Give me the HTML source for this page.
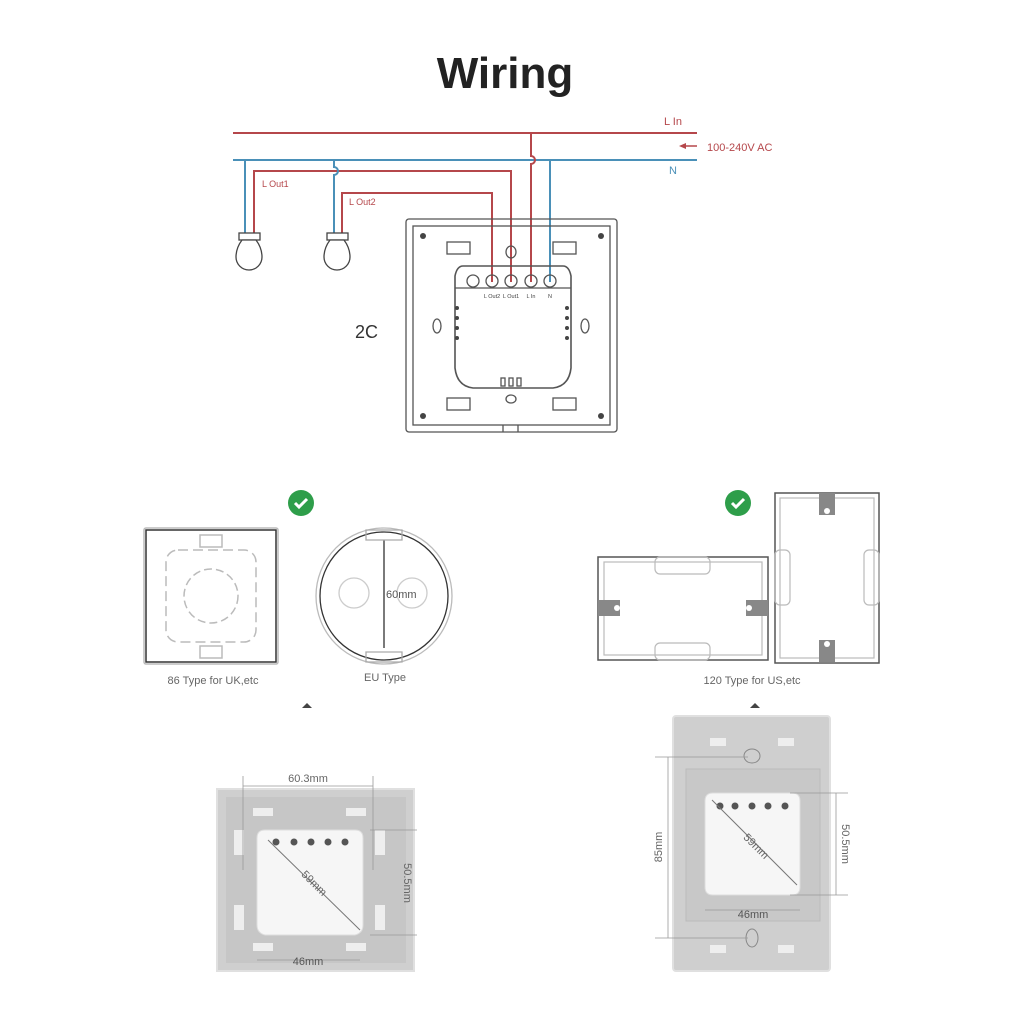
<!DOCTYPE html>
<html><head><meta charset="utf-8"><style>
html,body{margin:0;padding:0;background:#fff;}
svg{display:block;font-family:"Liberation Sans",sans-serif;}
</style></head><body>
<svg width="1024" height="1024" viewBox="0 0 1024 1024" xmlns="http://www.w3.org/2000/svg">
<rect width="1024" height="1024" fill="#fff"/>
<text x="505" y="88" text-anchor="middle" font-size="44" font-weight="bold" fill="#222">Wiring</text>

<!-- mains -->
<g fill="none" stroke-width="2">
<line x1="233" y1="133" x2="697" y2="133" stroke="#b5474b"/>
<line x1="233" y1="160" x2="697" y2="160" stroke="#4a90b8"/>
<!-- lamp1 -->
<line x1="245" y1="160" x2="245" y2="234" stroke="#4a90b8"/>
<path d="M254 234 V171 H511 V282" stroke="#b5474b"/>
<!-- lamp2 -->
<path d="M334 160 V167 a4 4 0 0 1 0 8 V234" stroke="#4a90b8"/>
<path d="M342 234 V193 H492 V282" stroke="#b5474b"/>
<!-- L in -->
<path d="M531 133 V156 a4 4 0 0 1 0 8 V282" stroke="#b5474b"/>
<line x1="550" y1="160" x2="550" y2="282" stroke="#4a90b8"/>
<line x1="697" y1="146" x2="682" y2="146" stroke="#b5474b" stroke-width="1.5"/>
</g>
<polygon points="679,146 686,143 686,149" fill="#b5474b"/>
<text x="664" y="125" font-size="11" fill="#b5474b">L In</text>
<text x="707" y="151" font-size="11" fill="#b5474b">100-240V AC</text>
<text x="669" y="174" font-size="11" fill="#4a90b8">N</text>
<text x="262" y="187" font-size="9" fill="#b5474b">L Out1</text>
<text x="349" y="205" font-size="9" fill="#b5474b">L Out2</text>

<!-- bulbs -->
<g fill="#fff" stroke="#444" stroke-width="1.3">
<rect x="239" y="233" width="21" height="7"/>
<path d="M242 240 Q236 248 236 257 A13 13 0 0 0 262 257 Q262 248 256 240 Z"/>
<rect x="327" y="233" width="21" height="7"/>
<path d="M330 240 Q324 248 324 257 A13 13 0 0 0 350 257 Q350 248 344 240 Z"/>
</g>
<text x="355" y="338" font-size="18" fill="#333">2C</text>

<!-- switch back -->
<g fill="none" stroke="#555" stroke-width="1.3">
<rect x="406" y="219" width="211" height="213" rx="3"/>
<rect x="413" y="226" width="197" height="199"/>
<path d="M503 425 v7 M518 425 v7"/>
<path d="M463 266 q-6 0 -8 10 V368 q2 18 18 20 H553 q16 -2 18 -20 V276 q-2 -10 -8 -10 Z" stroke-width="1.6"/>
<line x1="455" y1="288" x2="571" y2="288"/>
<ellipse cx="511" cy="252" rx="5" ry="6"/>
<ellipse cx="511" cy="399" rx="5" ry="4"/>
<ellipse cx="437" cy="326" rx="4" ry="7"/>
<ellipse cx="585" cy="326" rx="4" ry="7"/>
<rect x="447" y="242" width="23" height="12"/><rect x="553" y="242" width="23" height="12"/>
<rect x="447" y="398" width="23" height="12"/><rect x="553" y="398" width="23" height="12"/>
<circle cx="473" cy="281" r="6"/><circle cx="492" cy="281" r="6"/><circle cx="511" cy="281" r="6"/><circle cx="531" cy="281" r="6"/><circle cx="550" cy="281" r="6"/>
<rect x="501" y="378" width="4" height="8"/><rect x="509" y="378" width="4" height="8"/><rect x="517" y="378" width="4" height="8"/>
</g>
<g fill="#444">
<circle cx="423" cy="236" r="3"/><circle cx="601" cy="236" r="3"/><circle cx="423" cy="416" r="3"/><circle cx="601" cy="416" r="3"/>
<circle cx="457" cy="308" r="2"/><circle cx="457" cy="318" r="2"/><circle cx="457" cy="328" r="2"/><circle cx="457" cy="338" r="2"/>
<circle cx="567" cy="308" r="2"/><circle cx="567" cy="318" r="2"/><circle cx="567" cy="328" r="2"/><circle cx="567" cy="338" r="2"/>
</g>
<g font-size="5.5" fill="#444" text-anchor="middle">
<text x="492" y="298">L Out2</text><text x="511" y="298">L Out1</text><text x="531" y="298">L In</text><text x="550" y="298">N</text>
</g>

<!-- check marks -->
<g>
<circle cx="301" cy="503" r="13" fill="#2e9e4a"/>
<path d="M295 503 l4 4 l8 -8" stroke="#fff" stroke-width="3" fill="none"/>
<circle cx="738" cy="503" r="13" fill="#2e9e4a"/>
<path d="M732 503 l4 4 l8 -8" stroke="#fff" stroke-width="3" fill="none"/>
</g>

<!-- 86 box -->
<g fill="none" stroke="#333" stroke-width="1.5">
<rect x="146" y="530" width="130" height="132"/>
</g>
<g fill="none" stroke="#bbb" stroke-width="1.5">
<rect x="144" y="528" width="134" height="136" rx="2"/>
<rect x="166" y="550" width="90" height="92" rx="12" stroke-dasharray="10 5"/>
<circle cx="211" cy="596" r="27" stroke-dasharray="8 4"/>
<rect x="200" y="535" width="22" height="12"/><rect x="200" y="646" width="22" height="12"/>
</g>
<!-- EU -->
<g fill="none" stroke-width="1.3">
<circle cx="384" cy="596" r="68" stroke="#bbb"/>
<circle cx="384" cy="596" r="64" stroke="#333"/>
<circle cx="354" cy="593" r="15" stroke="#ccc"/>
<circle cx="412" cy="593" r="15" stroke="#ccc"/>
<line x1="384" y1="540" x2="384" y2="648" stroke="#333"/>
<path d="M366 530 h36 v10 h-36 z M366 652 h36 v10 h-36 z" stroke="#aaa"/>
</g>
<text x="386" y="598" font-size="11" fill="#555">60mm</text>
<text x="213" y="684" font-size="11" fill="#666" text-anchor="middle">86 Type for UK,etc</text>
<text x="385" y="681" font-size="11" fill="#666" text-anchor="middle">EU Type</text>
<polygon points="302,708 307,703 312,708" fill="#444"/>

<!-- 120 boxes -->
<g fill="none" stroke="#555" stroke-width="1.5">
<rect x="598" y="557" width="170" height="103"/>
<rect x="775" y="493" width="104" height="170"/>
</g>
<g fill="none" stroke="#bbb" stroke-width="1.2">
<rect x="604" y="562" width="158" height="93"/>
<rect x="780" y="498" width="94" height="160"/>
<rect x="655" y="557" width="55" height="17" rx="5"/><rect x="655" y="643" width="55" height="17" rx="5"/>
<rect x="775" y="550" width="15" height="55" rx="5"/><rect x="864" y="550" width="15" height="55" rx="5"/>
</g>
<g fill="#888"><rect x="598" y="600" width="22" height="16"/><rect x="746" y="600" width="22" height="16"/>
<rect x="819" y="493" width="16" height="22"/><rect x="819" y="640" width="16" height="22"/></g>
<g fill="#fff"><circle cx="617" cy="608" r="3"/><circle cx="749" cy="608" r="3"/><circle cx="827" cy="511" r="3"/><circle cx="827" cy="644" r="3"/></g>
<text x="752" y="684" font-size="11" fill="#666" text-anchor="middle">120 Type for US,etc</text>
<polygon points="750,708 755,703 760,708" fill="#444"/>

<!-- bottom left panel -->
<rect x="217" y="789" width="197" height="182" fill="#cfcfcf" stroke="#e0e0e0" stroke-width="2"/>
<rect x="226" y="797" width="180" height="166" fill="#c6c6c6"/>
<g fill="#eee"><rect x="234" y="830" width="10" height="25"/><rect x="234" y="905" width="10" height="25"/><rect x="375" y="830" width="10" height="25"/><rect x="375" y="905" width="10" height="25"/>
<rect x="253" y="808" width="20" height="8"/><rect x="346" y="808" width="20" height="8"/><rect x="253" y="943" width="20" height="8"/><rect x="346" y="943" width="20" height="8"/></g>
<path d="M265 830 H355 q8 0 8 8 V925 q0 8 -8 10 H265 q-8 -2 -8 -10 V838 q0 -8 8 -8z" fill="#f6f6f6" stroke="#ddd"/>
<g fill="#555"><circle cx="276" cy="842" r="3.5"/><circle cx="294" cy="842" r="3.5"/><circle cx="311" cy="842" r="3.5"/><circle cx="328" cy="842" r="3.5"/><circle cx="345" cy="842" r="3.5"/></g>
<line x1="268" y1="840" x2="360" y2="930" stroke="#777"/>
<g stroke="#999" stroke-width="0.8"><line x1="243" y1="786" x2="373" y2="786"/><line x1="243" y1="776" x2="243" y2="870"/><line x1="373" y1="776" x2="373" y2="870"/>
<line x1="370" y1="830" x2="417" y2="830"/><line x1="370" y1="935" x2="417" y2="935"/><line x1="257" y1="960" x2="360" y2="960"/></g>
<text x="308" y="782" font-size="11" fill="#666" text-anchor="middle">60.3mm</text>
<text x="308" y="965" font-size="11" fill="#555" text-anchor="middle">46mm</text>
<text x="300" y="883" font-size="11" fill="#666" transform="rotate(45 310 880)">59mm</text>
<text x="404" y="883" font-size="11" fill="#666" transform="rotate(90 404 883)" text-anchor="middle">50.5mm</text>

<!-- bottom right panel -->
<rect x="673" y="716" width="157" height="255" rx="3" fill="#cfcfcf" stroke="#e0e0e0" stroke-width="2"/>
<rect x="686" y="769" width="134" height="152" fill="#c8c8c8" stroke="#bbb"/>
<g fill="#eee"><rect x="710" y="738" width="16" height="8"/><rect x="778" y="738" width="16" height="8"/><rect x="710" y="945" width="16" height="8"/><rect x="778" y="945" width="16" height="8"/></g>
<ellipse cx="752" cy="756" rx="8" ry="7" fill="none" stroke="#888"/>
<ellipse cx="752" cy="938" rx="6" ry="9" fill="none" stroke="#888"/>
<path d="M713 793 H792 q8 0 8 8 V887 q0 8 -8 8 H713 q-8 0 -8 -8 V801 q0 -8 8 -8z" fill="#f6f6f6" stroke="#ddd"/>
<g fill="#555"><circle cx="720" cy="806" r="3.5"/><circle cx="735" cy="806" r="3.5"/><circle cx="752" cy="806" r="3.5"/><circle cx="768" cy="806" r="3.5"/><circle cx="785" cy="806" r="3.5"/></g>
<line x1="712" y1="800" x2="797" y2="885" stroke="#777"/>
<g stroke="#999" stroke-width="0.8"><line x1="655" y1="757" x2="748" y2="757"/><line x1="655" y1="938" x2="748" y2="938"/><line x1="668" y1="757" x2="668" y2="938"/>
<line x1="790" y1="793" x2="848" y2="793"/><line x1="790" y1="895" x2="848" y2="895"/><line x1="836" y1="793" x2="836" y2="895"/><line x1="705" y1="910" x2="800" y2="910"/></g>
<text x="753" y="918" font-size="11" fill="#555" text-anchor="middle">46mm</text>
<text x="742" y="846" font-size="11" fill="#666" transform="rotate(45 752 843)">59mm</text>
<text x="662" y="847" font-size="11" fill="#666" transform="rotate(-90 662 847)" text-anchor="middle">85mm</text>
<text x="842" y="844" font-size="11" fill="#666" transform="rotate(90 842 844)" text-anchor="middle">50.5mm</text>
</svg>
</body></html>
